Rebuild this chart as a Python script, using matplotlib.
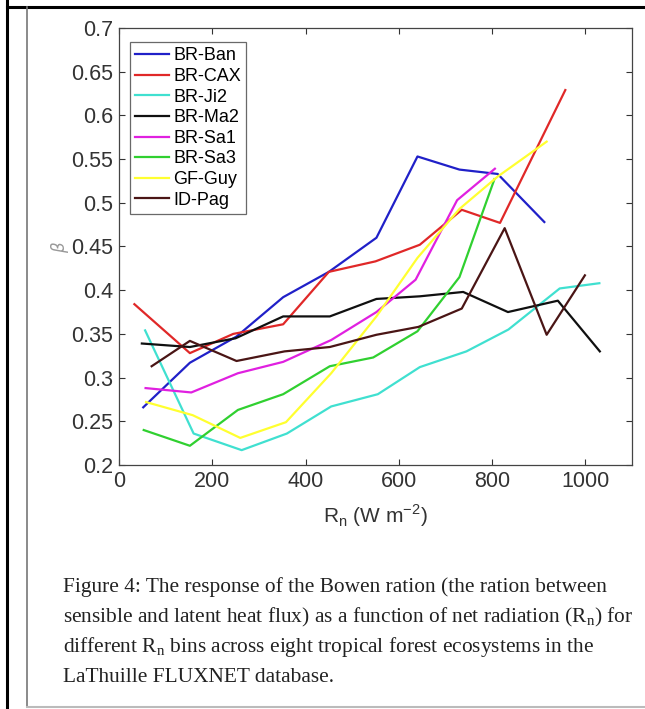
# Bowen ratio vs net radiation for eight tropical forest sites.

import matplotlib
matplotlib.use('Agg')
import matplotlib.pyplot as plt
from matplotlib.lines import Line2D

sites = ['BR-Ban', 'BR-CAX', 'BR-Ji2', 'BR-Ma2', 'BR-Sa1', 'BR-Sa3', 'GF-Guy', 'ID-Pag']
colors = ['#2020c8', '#e02828', '#40e0d0', '#101010', '#e020e0', '#30d030', '#ffff30', '#4a1515']

# Rn bin centres (W m-2) and beta values per site
ban_rn = [52, 152, 252, 352, 450, 552, 640, 730, 812, 912]
ban_b = [0.266, 0.317, 0.347, 0.392, 0.421, 0.460, 0.553, 0.538, 0.533, 0.478]

cax_rn = [33, 152, 245, 352, 450, 550, 645, 735, 817, 957]
cax_b = [0.384, 0.328, 0.350, 0.361, 0.421, 0.433, 0.452, 0.492, 0.477, 0.629]

ji2_rn = [56, 160, 263, 360, 455, 555, 645, 745, 835, 945, 1030]
ji2_b = [0.354, 0.236, 0.217, 0.236, 0.267, 0.281, 0.312, 0.330, 0.355, 0.402, 0.408]

ma2_rn = [49, 152, 250, 352, 452, 552, 645, 738, 834, 941, 1031]
ma2_b = [0.339, 0.335, 0.345, 0.370, 0.370, 0.390, 0.393, 0.398, 0.375, 0.388, 0.330]

sa1_rn = [57, 155, 255, 352, 455, 552, 636, 725, 806]
sa1_b = [0.288, 0.283, 0.305, 0.318, 0.343, 0.375, 0.412, 0.503, 0.539]

sa3_rn = [53, 152, 255, 352, 452, 545, 640, 730, 805]
sa3_b = [0.240, 0.222, 0.263, 0.281, 0.313, 0.323, 0.353, 0.415, 0.527]

guy_rn = [58, 158, 260, 358, 455, 552, 640, 730, 812, 917]
guy_b = [0.272, 0.257, 0.231, 0.249, 0.305, 0.370, 0.437, 0.493, 0.530, 0.570]

pag_rn = [70, 152, 252, 355, 452, 552, 642, 735, 827, 917, 999]
pag_b = [0.313, 0.342, 0.319, 0.330, 0.335, 0.349, 0.358, 0.379, 0.471, 0.349, 0.417]

xs = [ban_rn, cax_rn, ji2_rn, ma2_rn, sa1_rn, sa3_rn, guy_rn, pag_rn]
ys = [ban_b, cax_b, ji2_b, ma2_b, sa1_b, sa3_b, guy_b, pag_b]

xticks = [0, 200, 400, 600, 800, 1000]
yticks = [0.2, 0.25, 0.3, 0.35, 0.4, 0.45, 0.5, 0.55, 0.6, 0.65, 0.7]

caption = [
    'Figure 4: The response of the Bowen ration (the ration between',
    r'sensible and latent heat flux) as a function of net radiation (R$_\mathregular{n}$) for',
    r'different R$_\mathregular{n}$ bins across eight tropical forest ecosystems in the',
    'LaThuille FLUXNET database.',
]

plt.rcParams['font.family'] = ['Liberation Sans', 'DejaVu Sans']

fig = plt.figure(figsize=(6.45, 7.09), dpi=100)
W, H = 645, 709
ax = fig.add_axes([119 / W, 1 - 465 / H, (632 - 119) / W, (465 - 28) / H])

for x, y, c, name in zip(xs, ys, colors, sites):
    ax.plot(x, y, color=c, lw=1.6, label=name)

ax.set_xlim(0, 1100)
ax.set_ylim(0.2, 0.7)
ax.set_xticks(xticks)
ax.set_xticklabels([str(t) for t in xticks])
ax.set_yticks(yticks)
ax.set_yticklabels(['0.2', '0.25', '0.3', '0.35', '0.4', '0.45', '0.5', '0.55', '0.6', '0.65', '0.7'])
ax.tick_params(direction='in', top=True, right=True, length=4, width=0.8,
               labelsize=15.5, colors='#333333', pad=4)
for s in ax.spines.values():
    s.set_color('#444444')
    s.set_linewidth(0.9)

ax.set_xlabel(r'R$_\mathregular{n}$ (W m$^\mathregular{-2}$)', fontsize=15, color='#333333', labelpad=8)
ax.set_ylabel(r'$\beta$', fontsize=12, color='#999999', rotation=90, labelpad=0)

leg = ax.legend(loc='upper left', bbox_to_anchor=(0.021, 0.968), borderaxespad=0,
                fontsize=13, handlelength=1.9, handletextpad=0.2, labelspacing=0.2,
                borderpad=0.3, frameon=True, fancybox=False)
leg.get_frame().set_edgecolor('#444444')
leg.get_frame().set_linewidth(0.9)

# caption below the plot
for i, line in enumerate(caption):
    fig.text(63 / W, 1 - (592 + 30 * i) / H, line, family='Liberation Serif',
             fontsize=15.4, color='#222222', ha='left', va='baseline')

# page frame lines
frame = [
    ((7, 7), (0, H), 'black', 2.2),
    ((7, W), (7, 7), 'black', 2.2),
    ((27, 27), (7, 707), '#777777', 1.2),
    ((27, W), (707, 707), '#bbbbbb', 1.5),
]
for (x0, x1), (y0, y1), c, lw in frame:
    fig.add_artist(Line2D([x0 / W, x1 / W], [1 - y0 / H, 1 - y1 / H],
                          transform=fig.transFigure, color=c, lw=lw))

fig.savefig('out.png', dpi=100)
